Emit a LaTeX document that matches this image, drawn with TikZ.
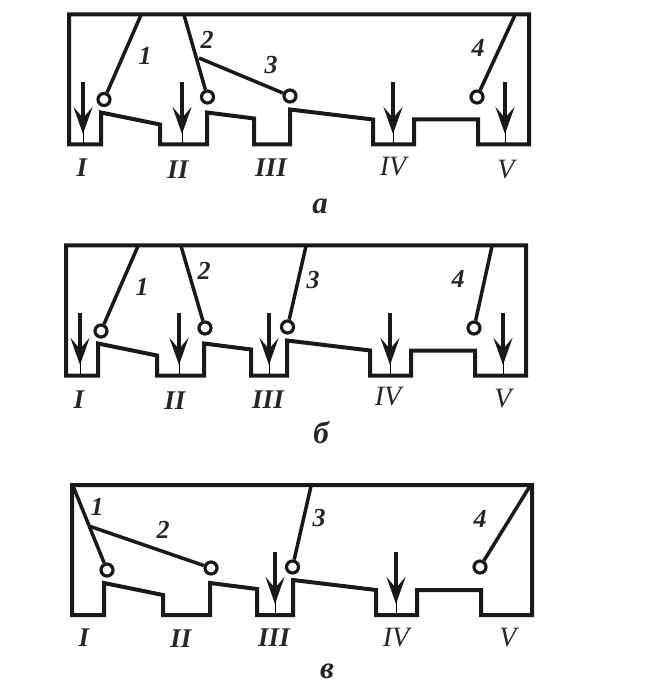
\documentclass[tikz,border=0pt]{standalone}
\usepackage{fontspec}
\setmainfont{Liberation Serif}
\usetikzlibrary{arrows.meta}
\tikzset{
  wall/.style={line width=4pt, black!90},
  lever/.style={line width=3.5pt, black!90},
  contact/.style={draw=black!90, circle, line width=3.2pt, fill=white, inner sep=0pt, minimum size=12pt},
  probe/.style={line width=3.2pt, black!90, -{Stealth[length=27pt,width=19pt,inset=11pt]}},
  lbl/.style={font=\fontsize{26}{26}\selectfont\bfseries\itshape, inner sep=0pt, text=black!85},
  rom/.style={font=\fontsize{28}{28}\selectfont\itshape, inner sep=0pt, text=black!85},
  romb/.style={font=\fontsize{27}{27}\selectfont\bfseries\itshape, inner sep=0pt, text=black!85},
  letter/.style={font=\fontsize{31}{31}\selectfont\bfseries\itshape, inner sep=0pt, text=black!85},
  casing/.pic={
    \draw[wall] (0,0) -- (0,130) -- (32,130) -- (32,98) -- (91,110) -- (91,130) -- (138,130)
      -- (138,98) -- (185,104) -- (185,130) -- (221,130) -- (221,95) -- (304,105) -- (304,130)
      -- (345,130) -- (345,105) -- (409,105) -- (409,130) -- (460,130) -- (460,0) -- cycle;
  }
}
\begin{document}
\begin{tikzpicture}[x=1pt, y=-1pt]
  \useasboundingbox (0,0) rectangle (666,684);
  % case a
  \pic at (69,14.5) {casing};
  \coordinate (at1) at (141,15);
  \coordinate (at2) at (184,15);
  \coordinate (aj3) at (199,58);
  \coordinate (at4) at (515,15);
  \node[contact] (ac1) at (104,99.5) {};
  \node[contact] (ac2) at (207.5,97) {};
  \node[contact] (ac3) at (290,96) {};
  \node[contact] (ac4) at (477,97) {};
  \draw[lever] (at1) -- (ac1);
  \draw[lever] (at2) -- (ac2);
  \draw[lever] (aj3) -- (ac3);
  \draw[lever] (at4) -- (ac4);
  \foreach \x in {83,182,393,505} {
    \draw[probe] (\x,82) -- (\x,134);
    \draw[thin] (\x,130) -- (\x,144);
  }
  \foreach \x/\y/\t/\n in {145/56/1/d1, 207/40/2/d2, 271/65/3/d3, 478/48/4/d4}
    \node[lbl] (a\n) at (\x,\y) {\t};
  \foreach \x/\y/\t/\n in {82/168/I/r1, 178/170/II/r2, 271/168/III/r3}
    \node[romb] (a\n) at (\x,\y) {\t};
  \foreach \x/\y/\t/\n in {393/167/IV/r4, 506/170/V/r5}
    \node[rom] (a\n) at (\x,\y) {\t};
  \node[letter] (acap) at (320,206) {а};
  % case b
  \pic at (66,245.5) {casing};
  \coordinate (bt1) at (138,246);
  \coordinate (bt2) at (181,246);
  \coordinate (bt3) at (306,246);
  \coordinate (bt4) at (492,246);
  \node[contact] (bc1) at (101,331) {};
  \node[contact] (bc2) at (205,328) {};
  \node[contact] (bc3) at (287.5,327) {};
  \node[contact] (bc4) at (474,328) {};
  \draw[lever] (bt1) -- (bc1);
  \draw[lever] (bt2) -- (bc2);
  \draw[lever] (bt3) -- (bc3);
  \draw[lever] (bt4) -- (bc4);
  \foreach \x in {80,179,269,390,503} {
    \draw[probe] (\x,313) -- (\x,365);
    \draw[thin] (\x,361) -- (\x,375);
  }
  \foreach \x/\y/\t/\n in {142/287/1/d1, 204/271/2/d2, 313/280/3/d3, 458/279/4/d4}
    \node[lbl] (b\n) at (\x,\y) {\t};
  \foreach \x/\y/\t/\n in {79/400/I/r1, 175/401/II/r2, 268/400/III/r3}
    \node[romb] (b\n) at (\x,\y) {\t};
  \foreach \x/\y/\t/\n in {388/397/IV/r4, 503/399/V/r5}
    \node[rom] (b\n) at (\x,\y) {\t};
  \node[letter] (bcap) at (321,433) {б};
  % case c
  \pic at (72,485) {casing};
  \coordinate (ct1) at (73,486);
  \coordinate (cj2) at (89,526);
  \coordinate (ct3) at (311,486);
  \coordinate (ct4) at (530,486);
  \node[contact] (cc1) at (107,570) {};
  \node[contact] (cc2) at (211,568) {};
  \node[contact] (cc3) at (292.5,567) {};
  \node[contact] (cc4) at (480,567) {};
  \draw[lever] (ct1) -- (cc1);
  \draw[lever] (cj2) -- (cc2);
  \draw[lever] (ct3) -- (cc3);
  \draw[lever] (ct4) -- (cc4);
  \foreach \x in {275,396} {
    \draw[probe] (\x,552) -- (\x,604);
    \draw[thin] (\x,600) -- (\x,614);
  }
  \foreach \x/\y/\t/\n in {97/507/1/d1, 163/530/2/d2, 319/518/3/d3, 480/519/4/d4}
    \node[lbl] (c\n) at (\x,\y) {\t};
  \foreach \x/\y/\t/\n in {84/638/I/r1, 181/639/II/r2, 274/638/III/r3}
    \node[romb] (c\n) at (\x,\y) {\t};
  \foreach \x/\y/\t/\n in {396/638/IV/r4, 508/638/V/r5}
    \node[rom] (c\n) at (\x,\y) {\t};
  \node[letter] (ccap) at (327,671) {в};
\end{tikzpicture}
\end{document}
